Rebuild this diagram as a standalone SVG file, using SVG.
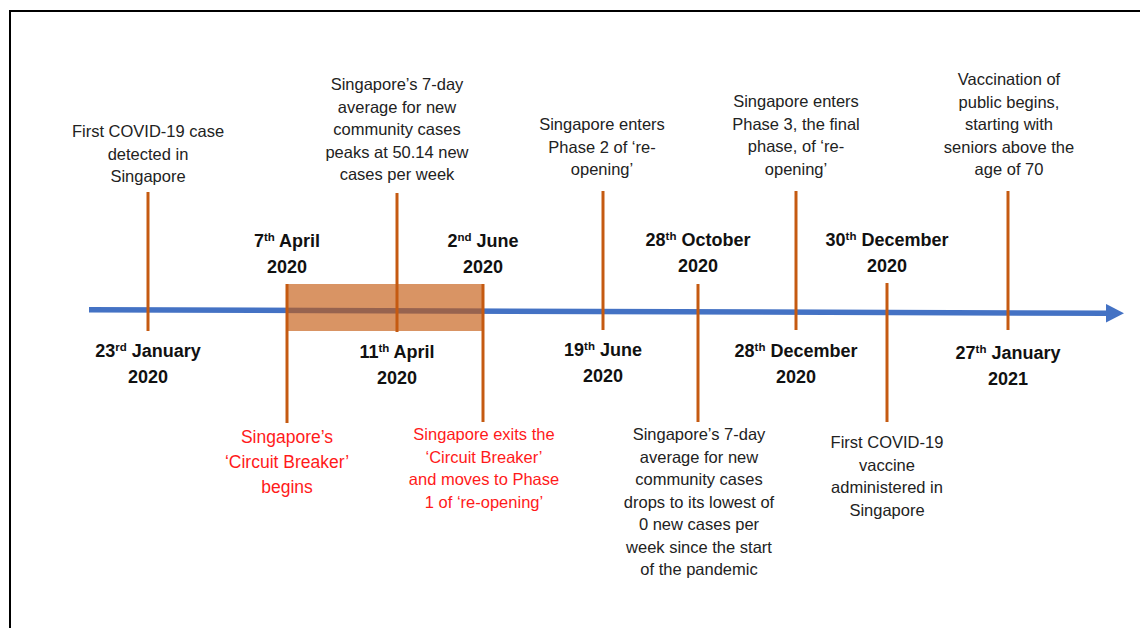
<svg xmlns="http://www.w3.org/2000/svg" width="1140" height="628" viewBox="0 0 1140 628">
<style>
text{font-family:"Liberation Sans",Arial,sans-serif;text-anchor:middle}
.t{font-size:16.5px;fill:#222}
.r{fill:#ff1a1a}
.d{font-size:18px;font-weight:bold;fill:#111}
.sup{font-size:11.5px}
.tick{stroke:#C55A11;stroke-width:3}
.axis{stroke:#4472C4;stroke-width:5.5;fill:none}
</style>
<defs>
<marker id="arrow" markerUnits="userSpaceOnUse" markerWidth="20" markerHeight="20" refX="0" refY="9.25" orient="auto">
<path d="M0,0 L18,9.25 L0,18.5 Z" fill="#4472C4"/>
</marker>
</defs>
<rect x="10" y="11" width="1200" height="700" fill="#fff" stroke="#000" stroke-width="2"/>
<g id="connectors">
<line class="axis" x1="89" y1="309.7" x2="1106" y2="313.2" marker-end="url(#arrow)"/>
<rect id="circuit-breaker-period" x="287" y="284" width="196" height="47" fill="#C55A11" fill-opacity="0.65"/>
<line class="tick" x1="148" y1="192" x2="148" y2="331"/>
<line class="tick" x1="287" y1="284" x2="287" y2="423"/>
<line class="tick" x1="397" y1="193" x2="397" y2="332"/>
<line class="tick" x1="483" y1="284" x2="483" y2="422"/>
<line class="tick" x1="603" y1="191" x2="603" y2="330"/>
<line class="tick" x1="698" y1="284" x2="698" y2="422"/>
<line class="tick" x1="796" y1="191" x2="796" y2="330"/>
<line class="tick" x1="887" y1="283" x2="887" y2="422"/>
<line class="tick" x1="1008" y1="191" x2="1008" y2="330"/>
</g>
<g id="ev-2020-01-23">
<text class="t" x="148" y="137">First COVID-19 case</text>
<text class="t" x="148" y="159.5">detected in</text>
<text class="t" x="148" y="182">Singapore</text>
<text class="d" x="148" y="357">23<tspan class="sup" dy="-6">rd</tspan><tspan dy="6"> January</tspan></text>
<text class="d" x="148" y="383">2020</text>
</g>
<g id="ev-2020-04-07">
<text class="d" x="287" y="246.5">7<tspan class="sup" dy="-6">th</tspan><tspan dy="6"> April</tspan></text>
<text class="d" x="287" y="272.5">2020</text>
<text class="t r" style="font-size:17.5px" x="287" y="443">Singapore’s</text>
<text class="t r" style="font-size:17.5px" x="287" y="468">‘Circuit Breaker’</text>
<text class="t r" style="font-size:17.5px" x="287" y="493">begins</text>
</g>
<g id="ev-2020-04-11">
<text class="t" x="397" y="90">Singapore’s 7-day</text>
<text class="t" x="397" y="112.5">average for new</text>
<text class="t" x="397" y="135">community cases</text>
<text class="t" x="397" y="157.5">peaks at 50.14 new</text>
<text class="t" x="397" y="180">cases per week</text>
<text class="d" x="397" y="358">11<tspan class="sup" dy="-6">th</tspan><tspan dy="6"> April</tspan></text>
<text class="d" x="397" y="384">2020</text>
</g>
<g id="ev-2020-06-02">
<text class="d" x="483" y="246.5">2<tspan class="sup" dy="-6">nd</tspan><tspan dy="6"> June</tspan></text>
<text class="d" x="483" y="272.5">2020</text>
<text class="t r" x="484" y="440">Singapore exits the</text>
<text class="t r" x="484" y="462.5">‘Circuit Breaker’</text>
<text class="t r" x="484" y="485">and moves to Phase</text>
<text class="t r" x="484" y="507.5">1 of ‘re-opening’</text>
</g>
<g id="ev-2020-06-19">
<text class="t" x="602" y="130">Singapore enters</text>
<text class="t" x="602" y="152.5">Phase 2 of ‘re-</text>
<text class="t" x="602" y="175">opening’</text>
<text class="d" x="603" y="356">19<tspan class="sup" dy="-6">th</tspan><tspan dy="6"> June</tspan></text>
<text class="d" x="603" y="382">2020</text>
</g>
<g id="ev-2020-10-28">
<text class="d" x="698" y="245.5">28<tspan class="sup" dy="-6">th</tspan><tspan dy="6"> October</tspan></text>
<text class="d" x="698" y="271.5">2020</text>
<text class="t" x="699" y="440">Singapore’s 7-day</text>
<text class="t" x="699" y="462.5">average for new</text>
<text class="t" x="699" y="485">community cases</text>
<text class="t" x="699" y="507.5">drops to its lowest of</text>
<text class="t" x="699" y="530">0 new cases per</text>
<text class="t" x="699" y="552.5">week since the start</text>
<text class="t" x="699" y="575">of the pandemic</text>
</g>
<g id="ev-2020-12-28">
<text class="t" x="796" y="107">Singapore enters</text>
<text class="t" x="796" y="129.5">Phase 3, the final</text>
<text class="t" x="796" y="152">phase, of ‘re-</text>
<text class="t" x="796" y="174.5">opening’</text>
<text class="d" x="796" y="356.5">28<tspan class="sup" dy="-6">th</tspan><tspan dy="6"> December</tspan></text>
<text class="d" x="796" y="382.5">2020</text>
</g>
<g id="ev-2020-12-30">
<text class="d" x="887" y="245.5">30<tspan class="sup" dy="-6">th</tspan><tspan dy="6"> December</tspan></text>
<text class="d" x="887" y="271.5">2020</text>
<text class="t" x="887" y="448">First COVID-19</text>
<text class="t" x="887" y="470.5">vaccine</text>
<text class="t" x="887" y="493">administered in</text>
<text class="t" x="887" y="515.5">Singapore</text>
</g>
<g id="ev-2021-01-27">
<text class="t" x="1009" y="85">Vaccination of</text>
<text class="t" x="1009" y="107.5">public begins,</text>
<text class="t" x="1009" y="130">starting with</text>
<text class="t" x="1009" y="152.5">seniors above the</text>
<text class="t" x="1009" y="175">age of 70</text>
<text class="d" x="1008" y="358.5">27<tspan class="sup" dy="-6">th</tspan><tspan dy="6"> January</tspan></text>
<text class="d" x="1008" y="384.5">2021</text>
</g>
</svg>
